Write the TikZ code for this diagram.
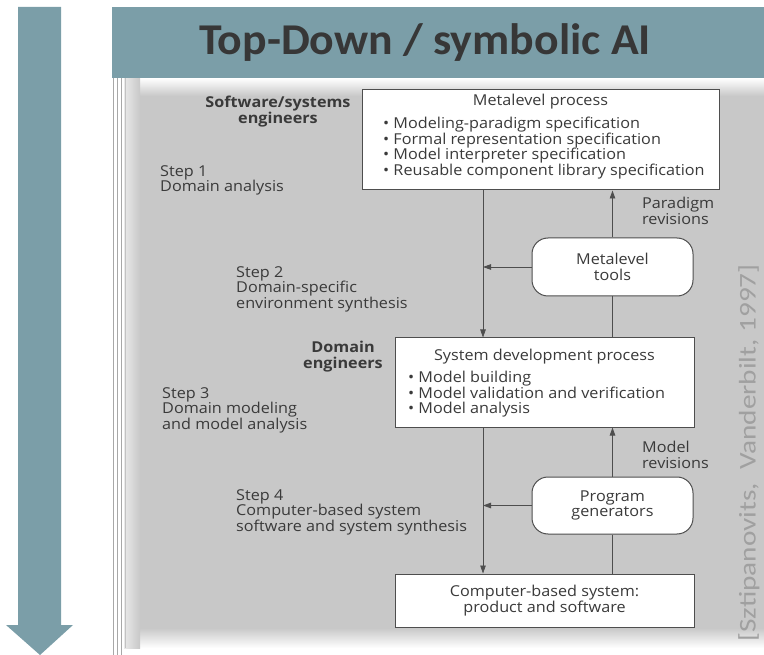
\documentclass[tikz,border=0pt]{standalone}
\usepackage{fontspec}
\setmainfont[FakeStretch=1.08]{Open Sans}
\newfontfamily\titlefont[FakeStretch=1.04]{Carlito}
\newfontfamily\citefont[FakeStretch=1.22]{Carlito}
\usetikzlibrary{arrows.meta}
\definecolor{banner}{HTML}{7B9EA8}
\definecolor{ink}{HTML}{3A3A3A}
\definecolor{bggrey}{HTML}{C8C8C8}
\definecolor{citegrey}{HTML}{A0A0A0}
\definecolor{framegrey}{HTML}{A8A8A8}
\begin{document}
\begin{tikzpicture}[x=1pt,y=-1pt,
  txt/.style={inner sep=0pt, text=ink, font=\fontsize{15}{15.5}\selectfont},
  boldtxt/.style={txt, font=\bfseries\fontsize{15}{15.5}\selectfont, align=center, anchor=north},
  leftxt/.style={txt, align=left, anchor=north west},
  sqbox/.style={draw=ink!90, line width=1pt, fill=white, inner sep=0pt},
  rdbox/.style={sqbox, rounded corners=16pt},
  conn/.style={draw=ink!90, line width=0.8pt},
  arr/.style={conn, -{Triangle[length=8pt,width=5.5pt]}}]
\useasboundingbox (0,0) rectangle (764,655);
% big down arrow
\fill[banner] (18,7) -- (61,7) -- (61,625) -- (73,625) -- (40,655) -- (6,625) -- (18,625) -- cycle;
% grey picture background
\fill[bggrey] (126,78) rectangle (764,648);
\shade[top color=white, bottom color=bggrey] (126,78) rectangle (764,96);
\shade[top color=bggrey, bottom color=white] (126,628) rectangle (764,648);
\shade[left color=white!60!bggrey, right color=bggrey] (124,78) rectangle (140,648);
% frame lines
\draw[framegrey, line width=0.8pt] (113,78) -- (113,655) -- (121,655) -- (121,78);
\draw[framegrey, line width=0.8pt] (117,78) -- (117,655);
\draw[framegrey!70, line width=0.6pt] (125,78) -- (125,648);
% banner
\fill[banner] (112,7) rectangle (764,78);
\node[inner sep=0pt, text=ink!95!black, font=\titlefont\bfseries\fontsize{44}{44}\selectfont] (title) at (425,43) {Top-Down / symbolic AI};
% citation
\node[rotate=90, inner sep=0pt, text=citegrey, font=\citefont\fontsize{24}{24}\selectfont] (cite) at (749,453) {[Sztipanovits,\ \ Vanderbilt, 1997]};
% boxes
\node[sqbox, minimum width=357pt, minimum height=100pt] (meta) at (540.5,140) {};
\node[sqbox, minimum width=299pt, minimum height=89pt] (sys) at (544.5,382.5) {};
\node[sqbox, minimum width=299pt, minimum height=53pt] (cbs) at (544.5,600.5) {};
\node[rdbox, minimum width=161pt, minimum height=58pt] (tools) at (612.5,267) {};
\node[rdbox, minimum width=161pt, minimum height=57pt] (pg) at (612.5,505.5) {};
% box texts
\node[txt] (metat) at (540.5,102) {Metalevel process};
\node[leftxt] (metab) at (383,117) {\textbullet\ Modeling-paradigm specification\\\textbullet\ Formal representation specification\\\textbullet\ Model interpreter specification\\\textbullet\ Reusable component library specification};
\node[txt] (syst) at (544.5,357) {System development process};
\node[leftxt] (sysb) at (408,371) {\textbullet\ Model building\\\textbullet\ Model validation and verification\\\textbullet\ Model analysis};
\node[txt, align=center] (toolst) at (tools.center) {Metalevel\\tools};
\node[txt, align=center] (pgt) at (pg.center) {Program\\generators};
\node[txt, align=center] (cbst) at (cbs.center) {Computer-based system:\\product and software};
% side texts
\node[boldtxt] (swe) at (278,96) {Software/systems\\engineers};
\node[boldtxt] (de) at (343,341) {Domain\\engineers};
\node[leftxt] (s1) at (160,165) {Step 1\\Domain analysis};
\node[leftxt] (s2) at (236,266) {Step 2\\Domain-specific\\environment synthesis};
\node[leftxt] (s3) at (162,387) {Step 3\\Domain modeling\\and model analysis};
\node[leftxt] (s4) at (236,489) {Step 4\\Computer-based system\\software and system synthesis};
\node[leftxt] (pr) at (642,197) {Paradigm\\revisions};
\node[leftxt] (mr) at (642,441) {Model\\revisions};
% connectors
\coordinate (L) at (483,0);
\coordinate (R) at (612.5,0);
\draw[arr] (meta.south -| L) -- (sys.north -| L);
\draw[arr] (sys.south -| L) -- (cbs.north -| L);
\draw[arr] (tools.west) -- (tools.west -| L);
\draw[arr] (pg.west) -- (pg.west -| L);
\draw[arr] (tools.north) -- (meta.south -| tools.north);
\draw[conn] (tools.south) -- (sys.north -| tools.south);
\draw[arr] (pg.north) -- (sys.south -| pg.north);
\draw[conn] (pg.south) -- (cbs.north -| pg.south);
\end{tikzpicture}
\end{document}
